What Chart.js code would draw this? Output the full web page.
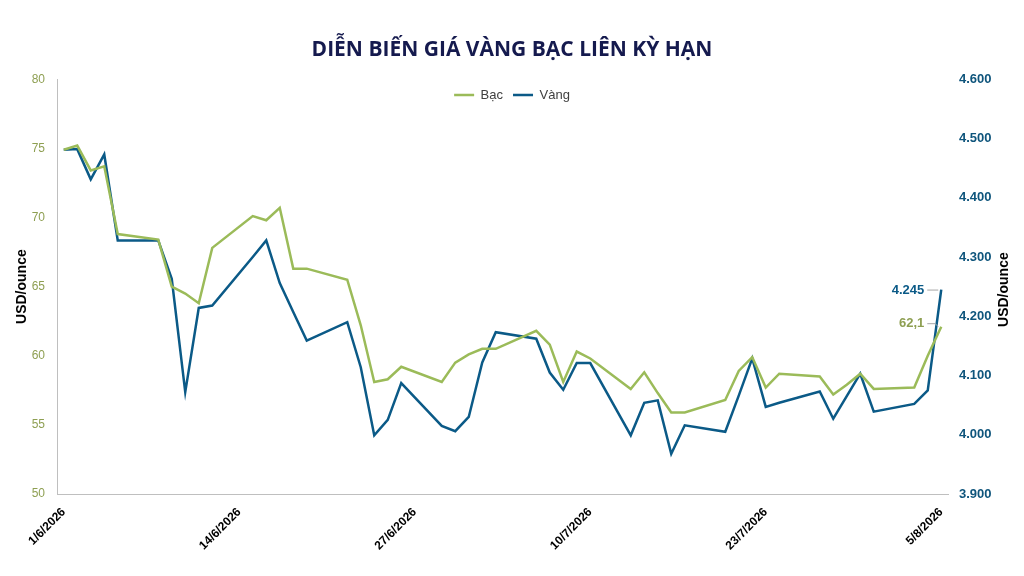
<!DOCTYPE html>
<html>
<head>
<meta charset="utf-8">
<script src="https://cdn.jsdelivr.net/npm/chart.js@4.4.1/dist/chart.umd.min.js"></script>
<style>
html,body{margin:0;padding:0;background:#ffffff;}
#wrap{width:1024px;height:576px;position:relative;}
</style>
</head>
<body>
<div id="wrap"><canvas id="c" width="1024" height="576"></canvas></div>
<script>
const categories = [
 '1/6/2026','2/6/2026','3/6/2026','4/6/2026','5/6/2026','6/6/2026','7/6/2026','8/6/2026','9/6/2026','10/6/2026',
 '11/6/2026','12/6/2026','13/6/2026','14/6/2026','15/6/2026','16/6/2026','17/6/2026','18/6/2026','19/6/2026','20/6/2026',
 '21/6/2026','22/6/2026','23/6/2026','24/6/2026','25/6/2026','26/6/2026','27/6/2026','28/6/2026','29/6/2026','30/6/2026',
 '1/7/2026','2/7/2026','3/7/2026','4/7/2026','5/7/2026','6/7/2026','7/7/2026','8/7/2026','9/7/2026','10/7/2026',
 '11/7/2026','12/7/2026','13/7/2026','14/7/2026','15/7/2026','16/7/2026','17/7/2026','18/7/2026','19/7/2026','20/7/2026',
 '21/7/2026','22/7/2026','23/7/2026','24/7/2026','25/7/2026','26/7/2026','27/7/2026','28/7/2026','29/7/2026','30/7/2026',
 '31/7/2026','1/8/2026','2/8/2026','3/8/2026','4/8/2026','5/8/2026'
];
const tickDates = ['1/6/2026','14/6/2026','27/6/2026','10/7/2026','23/7/2026','5/8/2026'];

// Bạc (silver), USD/ounce, left axis
const silver = [
 74.9, 75.2, 73.4, 73.7, 68.8, null, null, 68.4, 65.0, 64.5,
 63.8, 67.8, null, null, 70.1, 69.8, 70.7, 66.3, 66.3, null,
 null, 65.5, 62.2, 58.1, 58.3, 59.2, null, null, 58.1, 59.5,
 60.1, 60.5, 60.5, null, null, 61.8, 60.8, 58.1, 60.3, 59.8,
 null, null, 57.6, 58.8, 57.3, 55.9, 55.9, null, null, 56.8,
 58.9, 59.9, 57.7, 58.7, null, null, 58.5, 57.2, 57.9, 58.7,
 57.6, null, null, 57.7, 60.0, 62.1
];
// Vàng (gold), USD/ounce, right axis
const gold = [
 4481, 4482, 4431, 4473, 4328, null, null, 4328, 4263, 4072,
 4214, 4218, null, null, 4300, 4328, 4256, 4207, 4159, null,
 null, 4190, 4114, 3999, 4025, 4087, null, null, 4015, 4006,
 4030, 4122, 4173, null, null, 4162, 4105, 4076, 4121, 4121,
 null, null, 3999, 4054, 4058, 3968, 4016, null, null, 4005,
 4066, 4129, 4047, 4054, null, null, 4073, 4027, 4065, 4103,
 4039, null, null, 4052, 4075, 4245
];
const silverTicks = {min: 50, max: 80, step: 5};
const goldTicks = {min: 3900, max: 4600, step: 100};

const SILVER_COLOR = '#9BBB59';
const GOLD_COLOR = '#0B5A87';
const SILVER_TICK = '#8E9F52';
const GOLD_TICK = '#0F557C';
const FONT = "'Liberation Sans', Arial, sans-serif";

function fmtThousands(v){
  const n = Math.round(v);
  const th = Math.floor(n/1000), r = n % 1000;
  return th > 0 ? th + '.' + String(r).padStart(3,'0') : String(r);
}
function fmtDecimal(v){ return String(v).replace('.', ','); }

const adjustPlugin = {
  id: 'adjust',
  afterLayout(chart){
    const t = chart.titleBlock;
    if (t){ const d = 16.4; t.top += d; t.bottom += d; }
    const l = chart.legend;
    if (l){ const d = 95 - (l.top + 16.5); l.top += d; l.bottom += d; }
  }
};

const annotPlugin = {
  id: 'annot',
  afterDatasetsDraw(chart){
    const ctx = chart.ctx;
    const last = categories.length - 1;
    const pG = chart.getDatasetMeta(1).data[last];
    const pS = chart.getDatasetMeta(0).data[last];
    ctx.save();
    ctx.font = "bold 13px " + FONT;
    ctx.textAlign = 'right';
    ctx.textBaseline = 'middle';
    ctx.strokeStyle = '#A6A6A6';
    ctx.lineWidth = 1;
    ctx.beginPath();
    ctx.moveTo(pG.x - 14, pG.y + 0.5);
    ctx.lineTo(pG.x - 3, pG.y + 0.5);
    ctx.stroke();
    ctx.fillStyle = GOLD_COLOR;
    ctx.fillText(fmtThousands(gold[last]), pG.x - 17, pG.y + 1);
    const ly = pS.y - 3;
    ctx.beginPath();
    ctx.moveTo(pS.x - 14, ly);
    ctx.lineTo(pS.x - 6, ly);
    ctx.lineTo(pS.x - 3, pS.y);
    ctx.stroke();
    ctx.fillStyle = SILVER_TICK;
    ctx.fillText(fmtDecimal(silver[last]), pS.x - 17, ly);
    const ca = chart.chartArea;
    ctx.translate(1004, (ca.top + ca.bottom) / 2 + 3);
    ctx.rotate(-Math.PI/2);
    ctx.textAlign = 'center';
    ctx.font = "bold 14px " + FONT;
    ctx.fillStyle = '#000000';
    ctx.fillText('USD/ounce', 0, 0);
    ctx.restore();
  }
};

Chart.defaults.font.family = FONT;

new Chart(document.getElementById('c'), {
  type: 'line',
  data: {
    labels: categories,
    datasets: [
      {
        label: 'Bạc',
        data: silver,
        yAxisID: 'ySilver',
        borderColor: SILVER_COLOR,
        backgroundColor: SILVER_COLOR,
        borderWidth: 2.5,
        pointRadius: 0,
        pointStyle: 'line',
        tension: 0,
        spanGaps: true
      },
      {
        label: 'Vàng',
        data: gold,
        yAxisID: 'yGold',
        borderColor: GOLD_COLOR,
        backgroundColor: GOLD_COLOR,
        borderWidth: 2.5,
        pointRadius: 0,
        pointStyle: 'line',
        tension: 0,
        spanGaps: true
      }
    ]
  },
  options: {
    responsive: false,
    animation: false,
    devicePixelRatio: 1,
    layout: { padding: 0 },
    plugins: {
      title: {
        display: true,
        text: 'DIỄN BIẾN GIÁ VÀNG BẠC LIÊN KỲ HẠN',
        color: '#151A4E',
        font: { family: "'Open Sans', sans-serif", size: 21, weight: 'bold' },
        padding: { top: 21, bottom: 0 }
      },
      legend: {
        display: true,
        position: 'top',
        align: 'center',
        labels: {
          usePointStyle: true,
          pointStyle: 'line',
          pointStyleWidth: 20,
          color: '#404040',
          font: { size: 13 },
          padding: 10
        }
      },
      tooltip: { enabled: false }
    },
    scales: {
      x: {
        type: 'category',
        offset: true,
        grid: { display: false, drawTicks: false },
        border: { display: true, color: '#BFBFBF', width: 1 },
        ticks: {
          autoSkip: false,
          maxRotation: 45,
          minRotation: 45,
          padding: 11,
          color: '#000000',
          font: { size: 12, weight: 'bold' },
          callback: function(val, idx){
            const lab = categories[idx];
            return tickDates.includes(lab) ? lab : null;
          }
        },
        afterFit: function(s){ s.height = 82; }
      },
      ySilver: {
        type: 'linear',
        position: 'left',
        min: silverTicks.min,
        max: silverTicks.max,
        grid: { display: false, drawTicks: false },
        border: { display: true, color: '#BFBFBF', width: 1 },
        ticks: {
          stepSize: silverTicks.step,
          padding: 12,
          color: SILVER_TICK,
          font: { size: 12 }
        },
        title: {
          display: true,
          text: 'USD/ounce',
          color: '#000000',
          font: { size: 14, weight: 'bold' },
          padding: { top: 14, bottom: 0 }
        },
        afterFit: function(s){ s.width = 57; }
      },
      yGold: {
        type: 'linear',
        position: 'right',
        min: goldTicks.min,
        max: goldTicks.max,
        grid: { display: false, drawTicks: false },
        border: { display: false },
        ticks: {
          stepSize: goldTicks.step,
          padding: 11,
          color: GOLD_TICK,
          font: { size: 13, weight: 'bold' },
          callback: function(v){ return fmtThousands(v); }
        },
        afterFit: function(s){ s.width = 76; }
      }
    }
  },
  plugins: [adjustPlugin, annotPlugin]
});
</script>
</body>
</html>
